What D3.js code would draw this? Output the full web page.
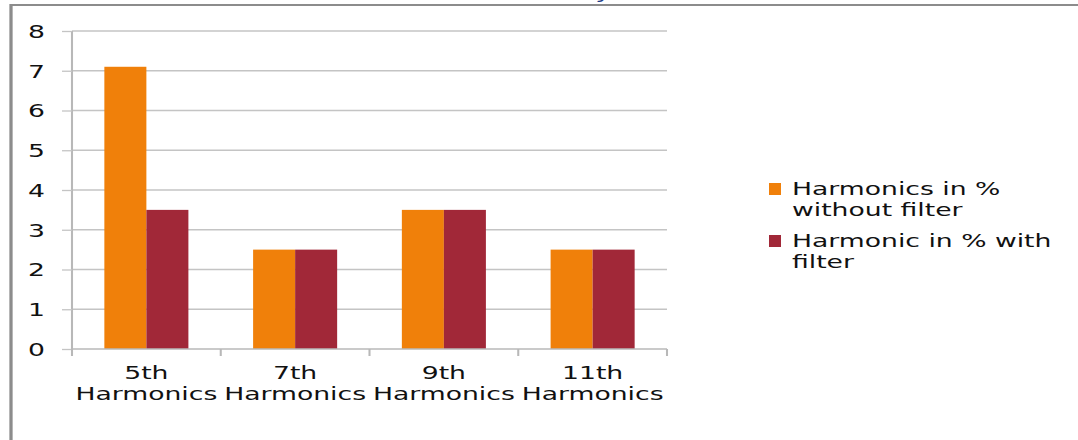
<!DOCTYPE html>
<html>
<head>
<meta charset="utf-8">
<script src="https://cdn.jsdelivr.net/npm/d3@7"></script>
<style>
  html, body { margin: 0; padding: 0; background: #fff; }
  svg { display: block; }
  text { font-family: "DejaVu Sans", Verdana, sans-serif; font-size: 18px; fill: #111; }
</style>
</head>
<body>
<svg id="chart"></svg>
<script>
// data
var categories = ["5th Harmonics", "7th Harmonics", "9th Harmonics", "11th Harmonics"];
var seriesNames = ["Harmonics in % without filter", "Harmonic in % with filter"];
var withoutFilter = [7.1, 2.5, 3.5, 2.5];
var withFilter = [3.5, 2.5, 3.5, 2.5];
var yTicks = [0, 1, 2, 3, 4, 5, 6, 7, 8];

var colors = ["#f0800a", "#a12838"];

// the picture is stretched sideways, so draw narrow and stretch the svg
var sx = 1.48;
var width = 1078, height = 440;
var vw = width / sx;
function X(px) { return px / sx; }

var svg = d3.select("svg#chart")
  .attr("width", width)
  .attr("height", height)
  .attr("viewBox", "0 0 " + vw + " " + height)
  .attr("preserveAspectRatio", "none");

svg.append("rect").attr("width", vw).attr("height", height).attr("fill", "#fff");

// a bit of the caption above, cut off by the crop
[[423, ","], [505, ","], [598, "y"]].forEach(function(c) {
  svg.append("text")
    .attr("x", X(c[0])).attr("y", -2.5)
    .attr("font-style", "italic")
    .style("fill", "#1f3c88")
    .text(c[1]);
});

// frame of the figure
svg.append("path")
  .attr("d", "M" + X(11) + "," + height + "V5H" + vw)
  .attr("fill", "none")
  .attr("stroke", "#8c8c8c")
  .attr("stroke-width", 2.2);

var x0 = X(72), x1 = X(667);
var yTop = 31, yBot = 349;

var x = d3.scaleBand().domain(categories).range([x0, x1]).padding(0);
var xs = d3.scaleBand().domain(seriesNames).range([0, x.bandwidth()])
  .paddingInner(0).paddingOuter(0.77);
var y = d3.scaleLinear().domain([0, 8]).range([yBot, yTop]);

// gridlines
svg.append("g").selectAll("line.grid")
  .data(yTicks.filter(d => d > 0))
  .enter().append("line")
  .attr("class", "grid")
  .attr("x1", x0).attr("x2", x1)
  .attr("y1", d => y(d)).attr("y2", d => y(d))
  .attr("stroke", "#c4c4c4")
  .attr("stroke-width", 1.3);

// bars
var groups = svg.append("g").selectAll("g.cat")
  .data(categories)
  .enter().append("g")
  .attr("class", "cat")
  .attr("transform", d => "translate(" + x(d) + ",0)");

groups.selectAll("rect")
  .data((d, i) => [withoutFilter[i], withFilter[i]].map((v, j) => ({ key: seriesNames[j], value: v, j: j })))
  .enter().append("rect")
  .attr("x", d => xs(d.key))
  .attr("width", xs.bandwidth())
  .attr("y", d => y(d.value))
  .attr("height", d => yBot - y(d.value))
  .attr("fill", d => colors[d.j]);

// y axis
var yAxis = svg.append("g")
  .attr("transform", "translate(" + x0 + ",0)")
  .call(d3.axisLeft(y).tickValues(yTicks).tickSize(X(10)).tickPadding(X(17)).tickFormat(d3.format("d")));
yAxis.selectAll("line").attr("stroke", "#c4c4c4").attr("stroke-width", 1.3);
yAxis.select(".domain").attr("stroke", "#b8b8b8").attr("stroke-width", 1.4).attr("d", "M0," + yTop + "V" + yBot);
yAxis.selectAll("text").style("font-size", "18px").attr("dy", "0.36em");

// x axis
var xAxis = svg.append("g")
  .attr("transform", "translate(0," + yBot + ")");
xAxis.append("line")
  .attr("x1", x0).attr("x2", x1)
  .attr("stroke", "#b8b8b8").attr("stroke-width", 1.6);
var edges = categories.map(d => x(d)).concat([x1]);
xAxis.selectAll("line.tick")
  .data(edges)
  .enter().append("line")
  .attr("class", "tick")
  .attr("x1", d => d).attr("x2", d => d)
  .attr("y1", 0).attr("y2", 7)
  .attr("stroke", "#b8b8b8").attr("stroke-width", 1.4);

var labels = xAxis.selectAll("text.cat")
  .data(categories)
  .enter().append("text")
  .attr("class", "cat")
  .attr("text-anchor", "middle")
  .attr("x", d => x(d) + x.bandwidth() / 2);
labels.append("tspan").attr("x", d => x(d) + x.bandwidth() / 2).attr("y", 30).text(d => d.split(" ")[0]);
labels.append("tspan").attr("x", d => x(d) + x.bandwidth() / 2).attr("y", 51).text(d => d.split(" ")[1]);

// legend
var legendLines = [["Harmonics in %", "without filter"], ["Harmonic in % with", "filter"]];
var legend = svg.append("g").selectAll("g.leg")
  .data(seriesNames)
  .enter().append("g")
  .attr("class", "leg")
  .attr("transform", (d, i) => "translate(" + X(769) + "," + (183 + i * 52) + ")");
legend.append("rect")
  .attr("width", X(12)).attr("height", 12)
  .attr("fill", (d, i) => colors[i]);
legend.append("text")
  .attr("x", X(23))
  .selectAll("tspan")
  .data((d, i) => legendLines[i])
  .enter().append("tspan")
  .attr("x", X(23))
  .attr("y", (d, k) => 12 + k * 21)
  .text(d => d);
</script>
</body>
</html>
